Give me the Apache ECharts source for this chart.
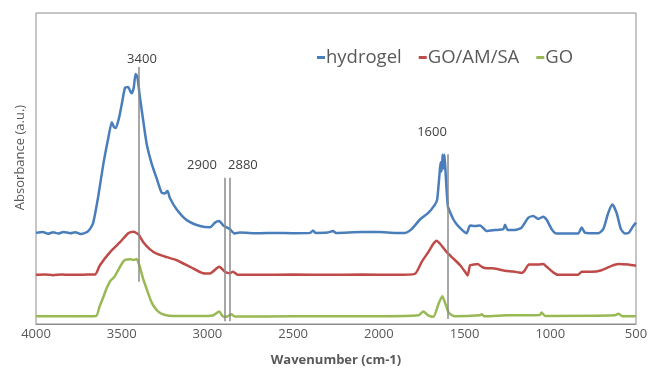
<!DOCTYPE html>
<html>
<head>
<meta charset="utf-8">
<script src="https://cdn.jsdelivr.net/npm/echarts@6/dist/echarts.min.js"></script>
<style>html,body{margin:0;padding:0;background:#fff;}#chart{width:655px;height:372px;}</style>
</head>
<body>
<div id="chart"></div>
<script>
// ---- data ----
const xTicks = [4000, 3500, 3000, 2500, 2000, 1500, 1000, 500];
const seriesNames = ['hydrogel', 'GO/AM/SA', 'GO'];

const hydrogelWn = [4000,3960,3930,3900,3870,3840,3800,3770,3740,3710,3697,3680,3666,3637,3607,3578,3558,3545,3535,3516,3497,3481,3462,3450,3442,3430,3419,3409,3393,3374,3354,3325,3296,3267,3248,3233,3219,3179,3121,3043,2985,2956,2931,2908,2870,2841,2812,2700,2600,2500,2400,2384,2370,2300,2267,2250,2100,2000,1900,1848,1809,1760,1712,1673,1660,1648,1640,1634,1628,1622,1617,1608,1598,1591,1565,1537,1488,1468,1439,1410,1371,1322,1274,1264,1248,1206,1167,1128,1099,1070,1041,1021,992,963,838,817,798,759,720,691,662,638,613,588,564,541,516,500];
const hydrogelAbs = [29.3,29.6,29.0,29.5,29.1,29.6,29.2,29.5,28.9,29.4,29.8,31.0,32.6,41.0,51.5,59.9,64.9,63.3,63.0,66.2,71.5,75.9,76.2,74.8,74.2,76.0,80.4,79.6,72.6,65.2,57.8,51.5,46.8,42.2,42.0,42.8,40.5,36.8,33.4,31.5,31.1,32.6,33.1,31.7,30.5,29.1,29.4,29.2,29.3,29.2,29.3,30.1,29.3,29.4,29.9,29.3,29.6,29.6,29.3,29.3,30.5,33.6,35.7,38.4,40.0,47.0,52.0,49.0,54.5,50.0,54.4,46.0,38.0,36.8,33.6,31.5,29.2,31.7,31.5,31.7,29.9,30.2,30.5,31.9,30.2,30.2,31.0,34.2,34.7,33.8,34.5,33.5,30.5,29.1,29.1,31.0,29.4,29.2,29.2,30.5,35.7,38.4,35.7,30.5,29.1,29.4,31.5,32.6];

const compositeWn = [4000,3950,3900,3850,3800,3750,3700,3656,3627,3568,3510,3462,3432,3403,3374,3335,3296,3238,3179,3101,3024,2988,2965,2931,2898,2870,2851,2822,2700,2500,2300,2100,1900,1790,1750,1712,1682,1663,1643,1604,1565,1526,1497,1482,1468,1449,1424,1400,1371,1342,1303,1264,1216,1187,1167,1152,1124,1070,1041,1021,983,953,838,817,759,701,642,603,545,500];
const compositeAbs = [15.8,15.9,15.7,15.9,15.8,15.8,15.9,15.9,18.9,23.1,26.3,29.2,29.7,28.8,26.3,24.0,22.6,21.5,20.5,18.4,16.3,16.2,17.0,18.4,16.8,16.3,16.8,15.8,15.8,15.9,15.8,15.9,15.8,16.1,20.0,23.1,25.8,26.8,25.8,23.1,21.0,18.9,16.8,15.6,18.9,19.1,19.3,18.4,17.9,17.9,17.6,17.1,16.9,16.6,16.4,17.0,19.1,19.1,19.3,18.4,16.6,15.8,15.8,16.8,16.8,17.3,18.7,19.3,19.1,18.7];

const goWn = [4000,3800,3650,3630,3605,3588,3565,3545,3520,3495,3480,3450,3430,3413,3395,3375,3354,3330,3310,3280,3240,3200,3000,2965,2931,2911,2888,2860,2841,2500,2000,1769,1741,1712,1682,1653,1630,1614,1591,1556,1410,1400,1385,1245,1060,1051,1030,623,601,580,500];
const goAbs = [2.5,2.5,2.6,5.5,9.0,11.5,14.0,15.0,17.4,19.8,20.6,20.8,20.6,20.9,18.5,14.5,11.2,7.5,5.5,3.7,2.8,2.6,2.6,2.8,4.0,2.5,2.3,3.1,2.4,2.5,2.5,2.8,4.0,2.8,2.3,6.3,8.9,6.8,3.5,2.5,2.8,3.1,2.5,2.8,2.9,3.7,2.6,2.8,3.3,2.5,2.5];

// reference lines (wavenumber, lower and upper absorbance) and their labels
const refLineWn = [3400, 2900, 2870, 1600];
const refLineLow = [13.6, 0.9, 0.9, 1.6];
const refLineHigh = [82.6, 47.0, 47.0, 54.6];
const refLabelText = ['3400', '2900', '2880', '1600'];
const refLabelWn = [3382, 3032, 2793, 1690];
const refLabelAbs = [85.2, 51.1, 51.1, 61.5];

const colors = ['#4a7ebb', '#be4b48', '#98b954'];
const FONT = 'Open Sans';

function pairs(xs, ys) { return xs.map((x, i) => [x, ys[i]]); }

const chart = echarts.init(document.getElementById('chart'), null, {renderer: 'canvas'});
const lineSeries = [
  {name: seriesNames[0], data: pairs(hydrogelWn, hydrogelAbs)},
  {name: seriesNames[1], data: pairs(compositeWn, compositeAbs)},
  {name: seriesNames[2], data: pairs(goWn, goAbs)}
].map((s, i) => ({
  name: s.name, type: 'line', data: s.data, showSymbol: false, smooth: 0.2,
  lineStyle: {width: 2.5, color: colors[i]}, itemStyle: {color: colors[i]}, z: 3
}));

lineSeries[2].markLine = {
  silent: true, symbol: 'none', animation: false,
  lineStyle: {color: '#8a8a8a', width: 1.5, type: 'solid'},
  label: {show: false},
  data: refLineWn.map((w, i) => [{coord: [w, refLineLow[i]]}, {coord: [w, refLineHigh[i]]}])
};
lineSeries[2].markPoint = {
  silent: true, symbol: 'circle', symbolSize: 1, animation: false,
  itemStyle: {color: 'rgba(0,0,0,0)'},
  label: {show: true, position: 'inside', color: '#404040', fontSize: 13, fontFamily: FONT},
  data: refLabelText.map((t, i) => ({coord: [refLabelWn[i], refLabelAbs[i]], value: t, label: {formatter: t}}))
};

chart.setOption({
  animation: false,
  color: colors,
  grid: {left: 36, right: 19, top: 13, bottom: 42, show: true, borderColor: '#8c8c8c', borderWidth: 1, backgroundColor: 'transparent'},
  legend: {
    data: seriesNames, left: 312, top: 43, icon: 'rect', itemWidth: 8, itemHeight: 3, itemGap: 17,
    textStyle: {fontSize: 18.5, color: '#595959', fontFamily: FONT, padding: [0, 0, 0, -4]}
  },
  xAxis: {
    type: 'value', inverse: true, min: 500, max: 4000, interval: 500,
    name: 'Wavenumber (cm-1)', nameLocation: 'middle', nameGap: 30,
    nameTextStyle: {fontSize: 13, fontWeight: 'bold', color: '#595959', fontFamily: FONT},
    axisLine: {show: true, lineStyle: {color: '#8c8c8c', width: 1}},
    axisTick: {show: false}, splitLine: {show: false},
    axisLabel: {fontSize: 13, color: '#595959', fontFamily: FONT, margin: 4,
      formatter: v => xTicks.includes(v) ? String(v) : ''}
  },
  yAxis: {
    type: 'value', min: 0, max: 100,
    name: 'Absorbance (a.u.)', nameLocation: 'middle', nameGap: 9, nameRotate: 90,
    nameTextStyle: {fontSize: 13, color: '#595959', fontFamily: FONT, padding: [0, 0, 0, 22]},
    axisLine: {show: false}, axisTick: {show: false}, axisLabel: {show: false}, splitLine: {show: false}
  },
  series: lineSeries
});
</script>
</body>
</html>
